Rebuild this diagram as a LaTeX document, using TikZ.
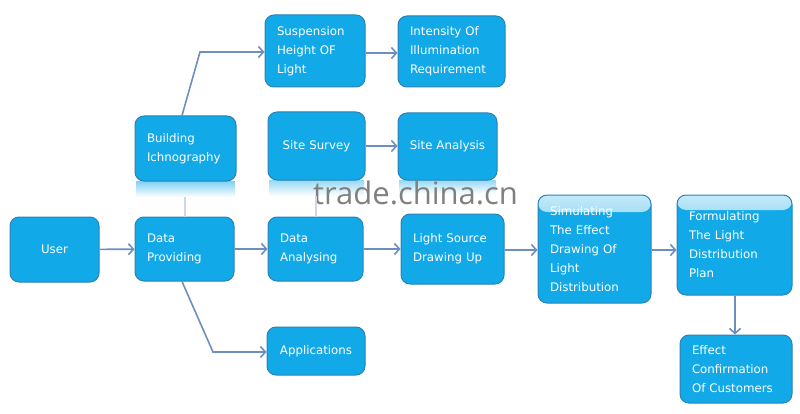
\documentclass[tikz,border=0pt]{standalone}
\usepackage{fontspec}
\setmainfont{DejaVu Sans}
\newfontfamily\wmfont{Open Sans}
\usetikzlibrary{arrows.meta}
\definecolor{boxblue}{HTML}{12A9E8}
\definecolor{boxedge}{HTML}{2B82B5}
\definecolor{arrowc}{HTML}{6C8FBF}
\tikzset{
  box/.style={draw=boxedge, line width=1pt, fill=boxblue, rounded corners=9pt, text=white,
    font=\fontsize{11.8}{19}\selectfont, inner xsep=12pt, inner ysep=0pt},
  fadetop/.style={path picture={\shade[top color=boxblue!25, bottom color=boxblue]
     (path picture bounding box.north west) rectangle ([yshift=-#1]path picture bounding box.north east);}},
  conn/.style={draw=arrowc, line width=1.6pt, -{Straight Barb[length=5pt,width=11pt,line width=1.6pt]}},
  faint/.style={draw=arrowc!35, line width=1.6pt}
}
\newcommand{\bx}[8][]{% opts, name, x1, y1(top), x2, y2(bottom), align, text
  \node[box, minimum width={#5-#3}, minimum height={#6-#4}, text width={#5-#3-24}, align=#7, #1]
    (#2) at ({(#3+#5)/2},{413-(#4+#6)/2}) {#8};}
\begin{document}
\begin{tikzpicture}[x=1pt,y=1pt]
\useasboundingbox (0,0) rectangle (800,413);
% reflections
\shade[top color=boxblue!55, bottom color=white] (136,413-181) rectangle (235,413-197);
\shade[top color=boxblue!45, bottom color=white] (269,413-180) rectangle (364,413-196);
\shade[top color=boxblue!45, bottom color=white] (399,413-180) rectangle (496,413-194);
% boxes
\bx{user}{10}{217}{99}{282}{center}{User}
\bx{dp}{135}{217}{234}{281}{left}{Data\\Providing}
\bx{da}{268}{217}{363}{281}{left}{Data\\Analysing}
\bx{ls}{401}{214}{504}{284}{left}{Light Source\\Drawing Up}
\bx[fadetop=17pt]{sim}{538}{195}{651}{303}{left}{Simulating\\The Effect\\Drawing Of\\Light\\Distribution}
\bx[fadetop=15pt]{form}{677}{195}{792}{295}{left}{Formulating\\The Light\\Distribution\\Plan}
\bx{eff}{680}{335}{792}{403}{left}{Effect\\Confirmation\\Of Customers}
\bx[inner xsep=3pt, text width=92]{app}{267}{327}{365}{375}{center}{Applications}
\bx{bi}{135}{116}{236}{181}{left}{Building\\Ichnography}
\bx{sh}{265}{15}{365}{87}{left}{Suspension\\Height OF\\Light}
\bx{ii}{398}{16}{505}{87}{left}{Intensity Of\\Illumination\\Requirement}
\bx[inner xsep=3pt, text width=91]{ss}{268}{112}{365}{180}{center}{Site Survey}
\bx[inner xsep=3pt, text width=93]{sa}{398}{113}{497}{180}{center}{Site Analysis}
% watermark
\node[text=black!50, font=\fontsize{31}{31}\selectfont\wmfont, anchor=base west, inner sep=0pt] (wm) at (313,413-204) {trade.china.cn};
% faint links
\draw[faint] (185,413-197) -- (dp.north -| 185,0);
\draw[faint] (316,413-196) -- (da.north -| 316,0);
% connectors
\draw[conn] (user) -- (dp);
\draw[conn] (dp) -- (da);
\draw[conn] (da) -- (ls);
\draw[conn] (ls.east |- 0,413-250) -- (sim.west |- 0,413-250);
\draw[conn] (sim.east |- 0,413-250) -- (form.west |- 0,413-250);
\draw[conn] (form.south -| 735,0) -- (eff.north -| 735,0);
\draw[conn] (dp.south -| 182,0) -- (213,413-352) -- (app.west |- 0,413-352);
\draw[conn] (bi.north -| 182,0) -- (200,413-52) -- (sh.west |- 0,413-52);
\draw[conn] (sh.east |- 0,413-53) -- (ii.west |- 0,413-53);
\draw[conn] (ss) -- (sa.west |- ss);
\end{tikzpicture}
\end{document}
